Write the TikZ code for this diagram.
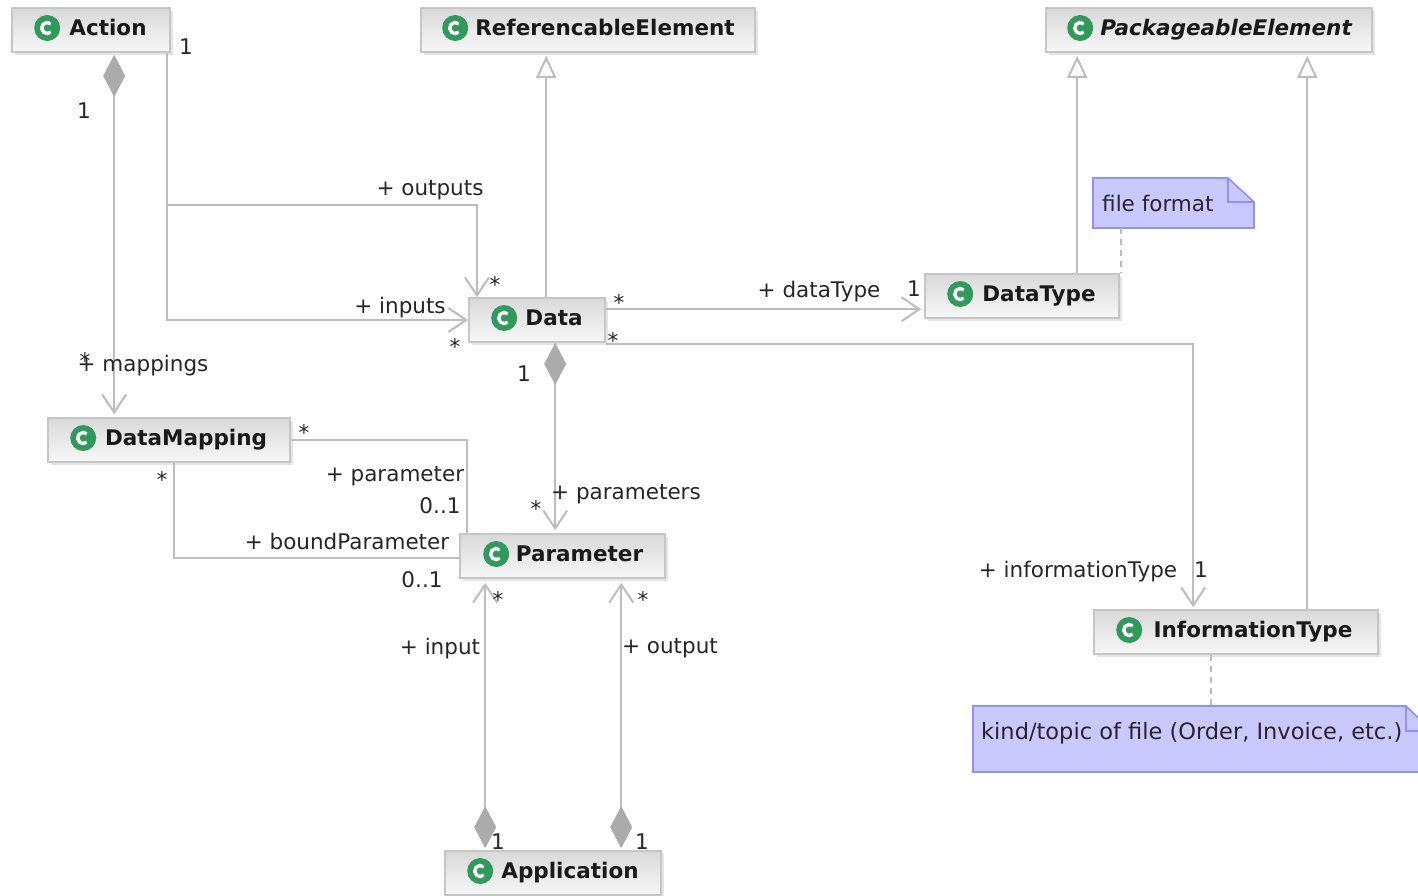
\documentclass[tikz,border=0pt]{standalone}
\usepackage{fontspec}
\setmainfont{DejaVu Sans}
\usetikzlibrary{arrows.meta,shadows}
\definecolor{conn}{HTML}{BDBDBD}
\definecolor{dia}{HTML}{ABABAB}
\definecolor{boxline}{HTML}{C6C6C6}
\definecolor{notefill}{HTML}{C9C9FF}
\definecolor{noteline}{HTML}{8F8FFF}
\definecolor{icongreen}{HTML}{2F9A5B}
\tikzset{
  cls/.style={draw=boxline,line width=1.6pt,top color=white!85!black,bottom color=white!97!black,
    drop shadow={shadow xshift=3pt,shadow yshift=-3pt,fill=black!10,opacity=1},
    minimum height=44pt,inner sep=0pt,text height=16pt,text depth=5pt,font=\fontsize{21.5}{26}\selectfont\bfseries,text=black!90},
  lab/.style={inner sep=0pt,text height=16pt,text depth=0pt,font=\fontsize{21.5}{26}\selectfont,text=black!85},
  notetext/.style={inner sep=0pt,font=\fontsize{21.5}{26}\selectfont,text=black!85},
  notebox/.style={inner sep=0pt},
  conline/.style={draw=conn,line width=2pt},
  assoc/.style={conline,-{Straight Barb[length=18pt,width=24pt,line width=2pt,color=conn]}},
  gener/.style={conline,-{Triangle[open,length=22pt,width=20pt,line width=2pt,color=conn,fill=white]}},
  compS/.style={conline,{Diamond[length=42pt,width=22pt,color=dia,fill=dia]}-{Straight Barb[length=18pt,width=24pt,line width=2pt,color=conn]}},
  noteshape/.style={draw=noteline,line width=1.6pt,fill=notefill},
  noteconn/.style={draw=conn,line width=2pt,dash pattern=on 6pt off 5pt},
  classicon/.pic={
    \fill[icongreen] (0,0) circle (13pt);
    \draw[white,line width=3.4pt] (50:5.5pt) arc (50:310:5.5pt);
  }
}
\begin{document}
\begin{tikzpicture}[x=1pt,y=-1pt]
\useasboundingbox (0,0) rectangle (1418,895);
\clip (0,0) rectangle (1418,895);

% note shapes
\draw[noteshape] (1093,178) -- (1228,178) -- (1254,202) -- (1254,228) -- (1093,228) -- cycle;
\draw[noteshape,fill=none] (1228,178) -- (1228,202) -- (1254,202);
\draw[noteshape] (973,706) -- (1406,706) -- (1432,731) -- (1432,772) -- (973,772) -- cycle;
\draw[noteshape,fill=none] (1406,706) -- (1406,731) -- (1432,731);
\node[notebox,minimum width=161pt,minimum height=50pt] (nff) at (1173.5,203) {};
\node[notebox,minimum width=445pt,minimum height=66pt] (nkt) at (1195.5,739) {};
\node[notetext,anchor=base west] (tff) at (1102,211) {file format};
\node[notetext,anchor=base west,font=\fontsize{22.5}{26}\selectfont] (tkt) at (981,739) {kind/topic of file (Order, Invoice, etc.)};

% classes
\node[cls,minimum width=158pt] (action) at (91,30) {\hspace*{34pt}Action};
\node[cls,minimum width=334pt] (ref) at (588,30) {\hspace*{34pt}ReferencableElement};
\node[cls,minimum width=326pt] (pack) at (1209,30) {\hspace*{34pt}\itshape PackageableElement};
\node[cls,minimum width=136pt] (data) at (537,320) {\hspace*{34pt}Data};
\node[cls,minimum width=194pt] (dtype) at (1022,296) {\hspace*{34pt}DataType};
\node[cls,minimum width=242pt] (dmap) at (169,440) {\hspace*{34pt}DataMapping};
\node[cls,minimum width=205pt] (param) at (562.5,556) {\hspace*{34pt}Parameter};
\node[cls,minimum width=284pt] (itype) at (1236,632) {\hspace*{34pt}InformationType};
\node[cls,minimum width=216pt] (app) at (553,873) {\hspace*{34pt}Application};

\foreach \n/\d in {action/36,ref/35,pack/35,data/36,dtype/36,dmap/36,param/37,itype/36,app/36}
  \pic at ([xshift=\d pt,yshift=2pt]\n.west) {classicon};

% connectors
\coordinate (outbend) at (477,205);
\coordinate (itbend) at (1193,344);
\draw[compS] ([xshift=103pt,yshift=-2pt]action.south west) -- ([xshift=67pt,yshift=3pt]dmap.north west);
\draw[assoc] ([xshift=-4pt]action.south east) |- (outbend) -- (outbend |- data.north);
\draw[assoc] ([xshift=-4pt]action.south east) |- (data.west);
\draw[gener] ([xshift=78pt]data.north west) -- ([xshift=126pt,yshift=-3pt]ref.south west);
\draw[assoc] ([yshift=-12pt]data.north east) -- ([yshift=-36pt,xshift=-3pt]dtype.north west);
\draw[assoc] (data.east |- itbend) -| ([xshift=100pt,yshift=2pt]itype.north west);
\draw[compS] ([xshift=87pt]data.south west) -- ([xshift=96pt,yshift=3pt]param.north west);
\draw[conline] (dmap.east) -| ([xshift=8pt]param.north west);
\draw[conline] ([xshift=127pt]dmap.south west) |- ([yshift=-2pt]param.west);
\draw[compS] ([xshift=41pt,yshift=2pt]app.north west) -- ([xshift=26pt,yshift=-4pt]param.south west);
\draw[compS] ([xshift=177pt,yshift=2pt]app.north west) -- ([xshift=162pt,yshift=-4pt]param.south west);
\draw[gener] ([xshift=153pt]dtype.north west) -- ([xshift=32pt,yshift=-3pt]pack.south west);
\draw[gener] ([xshift=214pt]itype.north west) -- ([xshift=262pt,yshift=-3pt]pack.south west);
\draw[noteconn] ([xshift=28pt]nff.south west) -- ([xshift=28pt]nff.south west |- dtype.north);
\draw[noteconn] ([xshift=118pt]itype.south west) -- ([xshift=118pt]itype.south west |- nkt.north);

% labels
\node[lab] (l1) at (186,46) {1};
\node[lab] (l2) at (84,110) {1};
\node[lab] (l3) at (430,187) {+ outputs};
\node[lab] (l4) at (495,284) {*};
\node[lab] (l5) at (400,305) {+ inputs};
\node[lab] (l6) at (455,346) {*};
\node[lab] (l7) at (619,302) {*};
\node[lab] (l8) at (613,340) {*};
\node[lab] (l9) at (819,289) {+ dataType};
\node[lab] (l10) at (914,288) {1};
\node[lab] (l11) at (524,373) {1};
\node[lab] (l12) at (85,360) {*};
\node[lab] (l13) at (143,363) {+ mappings};
\node[lab] (l14) at (304,432) {*};
\node[lab] (l15) at (162,479) {*};
\node[lab] (l16) at (395,473) {+ parameter};
\node[lab] (l17) at (440,505) {0..1};
\node[lab] (l18) at (626,491) {+ parameters};
\node[lab] (l19) at (536,508) {*};
\node[lab] (l20) at (347,541) {+ boundParameter};
\node[lab] (l21) at (422,579) {0..1};
\node[lab] (l22) at (498,599) {*};
\node[lab] (l23) at (643,599) {*};
\node[lab] (l24) at (440,646) {+ input};
\node[lab] (l25) at (670,645) {+ output};
\node[lab] (l26) at (498,841) {1};
\node[lab] (l27) at (642,841) {1};
\node[lab] (l28) at (1078,569) {+ informationType};
\node[lab] (l29) at (1201,569) {1};
\end{tikzpicture}
\end{document}
